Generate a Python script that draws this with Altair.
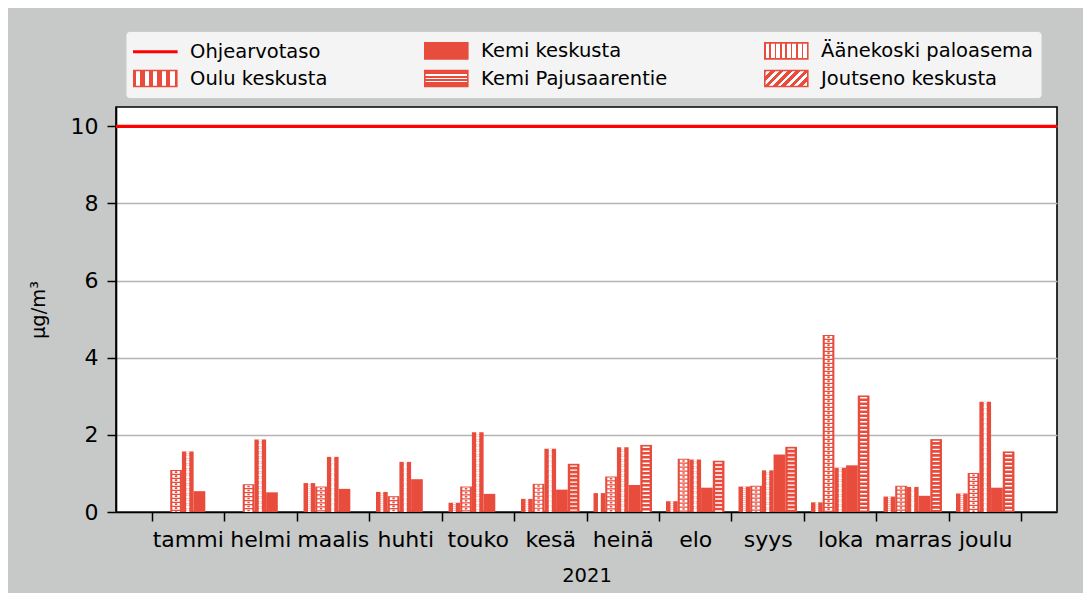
import json
import altair as alt
import pandas as pd

# ---- data ----
months = ["tammi", "helmi", "maalis", "huhti", "touko", "kesä",
          "heinä", "elo", "syys", "loka", "marras", "joulu"]
series_names = ["Oulu keskusta", "Äänekoski paloasema", "Joutseno keskusta",
                "Kemi keskusta", "Kemi Pajusaarentie"]
oulu = [None, None, 0.75, 0.52, 0.24, 0.34, 0.49, 0.28, 0.66, 0.25, 0.40, 0.48]
aanekoski = [1.09, 0.72, 0.66, 0.41, 0.66, 0.73, 0.92, 1.38, 0.68, 4.59, 0.68, 1.01]
joutseno = [1.57, 1.88, 1.43, 1.30, 2.07, 1.64, 1.68, 1.36, 1.08, 1.15, 0.65, 2.86]
kemi_keskusta = [0.54, 0.51, 0.60, 0.85, 0.47, 0.58, 0.70, 0.63, 1.49, 1.21, 0.42, 0.63]
kemi_paju = [None, None, None, None, None, 1.25, 1.74, 1.33, 1.69, 3.02, 1.89, 1.57]
guide_name = "Ohjearvotaso"
guide_values = [10]
legend_order = ["Ohjearvotaso", "Oulu keskusta", "Kemi keskusta",
                "Kemi Pajusaarentie", "Äänekoski paloasema", "Joutseno keskusta"]

RED = "#e74c3c"
LINE_RED = "#ff0000"
FONT = "DejaVu Sans"

rows = []
for name, vals in zip(series_names, [oulu, aanekoski, joutseno, kemi_keskusta, kemi_paju]):
    for m, v in zip(months, vals):
        if v is not None:
            rows.append({"month": m, "series": name, "value": v})
df = pd.DataFrame(rows)
df_guide = pd.DataFrame({"series": [guide_name] * len(guide_values), "value": guide_values})

# ---- legend symbol fills: hatch patterns imitated with striped gradients ----
def stripes(period_count, white_frac, start=0.0):
    stops = [{"offset": 0, "color": RED}]
    step = 1.0 / period_count
    for i in range(period_count):
        a = min(1, (i + start) * step)
        b = min(1, a + white_frac * step)
        stops += [{"offset": round(a, 4), "color": RED},
                  {"offset": round(a, 4), "color": "#ffffff"},
                  {"offset": round(b, 4), "color": "#ffffff"},
                  {"offset": round(b, 4), "color": RED}]
    return stops + [{"offset": 1, "color": RED}]

g_paju = {"gradient": "linear", "x1": 0, "y1": 0, "x2": 0, "y2": 1,
          "stops": [{"offset": 0, "color": RED}, {"offset": 0.24, "color": RED},
                    {"offset": 0.24, "color": "#ffffff"}, {"offset": 0.32, "color": "#ffffff"},
                    {"offset": 0.32, "color": RED}, {"offset": 0.45, "color": RED},
                    {"offset": 0.45, "color": "#ffffff"}, {"offset": 0.53, "color": "#ffffff"},
                    {"offset": 0.53, "color": RED}, {"offset": 0.66, "color": RED},
                    {"offset": 0.66, "color": "#ffffff"}, {"offset": 0.74, "color": "#ffffff"},
                    {"offset": 0.74, "color": RED}, {"offset": 1, "color": RED}]}
g_jout = {"gradient": "linear", "x1": 0, "y1": 0, "x2": 1.205, "y2": 0.449,
          "stops": stripes(7, 0.45, 0.3)}
g_aane = {"gradient": "linear", "x1": 0, "y1": 0, "x2": 1, "y2": 0,
          "stops": stripes(8, 0.7, 0.15)}
g_oulu = {"gradient": "linear", "x1": 0, "y1": 0, "x2": 1, "y2": 0,
          "stops": stripes(5, 0.5, 0.25)}

def js(o):
    return json.dumps(o, ensure_ascii=False)

fill_expr = (
    f"datum.value === '{guide_name}' ? '{LINE_RED}' : "
    f"datum.value === 'Kemi keskusta' ? '{RED}' : "
    f"datum.value === 'Oulu keskusta' ? {js(g_oulu)} : "
    f"datum.value === 'Kemi Pajusaarentie' ? {js(g_paju)} : "
    f"datum.value === 'Äänekoski paloasema' ? {js(g_aane)} : {js(g_jout)}"
)
# wide symbols: path spans [-2, 2] so the legend's square layout stays compact
RECT = "M-2,-0.744H2V0.744H-2Z"
LINE = "M-2,-0.07H2V0.07H-2Z"
legend = alt.Legend(
    title=None, orient="none", legendX=9.5, legendY=-76, columns=3,
    columnPadding=93, rowPadding=4, padding=7.5,
    symbolType=alt.ExprRef(expr=f"datum.value === '{guide_name}' ? '{LINE}' : '{RECT}'"),
    symbolSize=462, symbolStrokeWidth=1.6, symbolOffset=10.3,
    symbolFillColor=alt.ExprRef(expr=fill_expr),
    symbolOpacity=1,
    labelFont=FONT, labelFontSize=19.5, labelColor="#000", labelOffset=22.8,
    labelLimit=400, fillColor="#f3f4f3", strokeColor="#cccccc", cornerRadius=4,
)

x_enc = alt.X("month:N", sort=months,
              scale=alt.Scale(paddingInner=0, paddingOuter=0.49),
              axis=alt.Axis(title="2021", labelAngle=0, tickBand="extent"))
off_scale = alt.Scale(domain=series_names, paddingInner=0, paddingOuter=0.6)
xoff = alt.XOffset("series:N", sort=series_names, scale=off_scale)
y_enc = alt.Y("value:Q", scale=alt.Scale(domain=[0, 10.5], nice=False),
              axis=alt.Axis(title="µg/m³", values=[0, 2, 4, 6, 8, 10]))
color_enc = alt.Color("series:N",
                      scale=alt.Scale(domain=legend_order, range=[LINE_RED] + [RED] * 5),
                      legend=legend)

bars = alt.Chart(df).mark_bar(color=RED).encode(x=x_enc, xOffset=xoff, y=y_enc)

def overlay(name, color, width, dash, dash_offset, band=0.5):
    return alt.Chart(df).transform_filter(alt.datum.series == name).mark_rule(
        color=color, strokeWidth=width, strokeDash=dash, strokeDashOffset=dash_offset,
        strokeCap="butt").encode(
        x=x_enc,
        xOffset=alt.XOffset("series:N", sort=series_names, scale=off_scale, bandPosition=band),
        y=y_enc, y2=alt.datum(0))

layers = [bars]
# Kemi Pajusaarentie: horizontal white lines
layers.append(overlay("Kemi Pajusaarentie", "#ffffff", 7, [1.4, 2.6], 2.4))
# Äänekoski: white cells with red dots
layers.append(overlay("Äänekoski paloasema", "#ffffff", 7.5, [2.8, 1.2], 3.0))
layers.append(overlay("Äänekoski paloasema", RED, 2.4, [1.6, 2.4], 2.6))
# Joutseno: diagonal stripes imitated by phase-shifted columns
for dx in (-2.8, 0, 2.8):
    layers.append(overlay("Joutseno keskusta", "#ffffff", 2.9, [2.2, 2.8],
                          (3.0 + dx) % 5.0, 0.5 + dx / 11.69))
# Oulu: cross hatch imitated by small white checks
for dx, ph in ((-2.2, 2.0), (2.2, 0.0)):
    layers.append(overlay("Oulu keskusta", "#ffffff", 2.8, [1.8, 2.2], ph, 0.5 + dx / 11.69))

guide = alt.Chart(df_guide).mark_rule(strokeWidth=3.2).encode(y=y_enc, color=color_enc)
layers.append(guide)

chart = alt.layer(*layers).properties(
    width=941, height=405,
    autosize=alt.AutoSizeParams(type="none"),
    padding={"left": 108, "top": 99, "right": 26, "bottom": 81},
    background="#c6c9c7",
).configure_view(
    fill="white", stroke="black", strokeWidth=1.6
).configure_axis(
    labelFont=FONT, titleFont=FONT, labelColor="#000", titleColor="#000",
    labelFontSize=22, titleFontSize=19.5, titleFontWeight="normal",
    tickColor="#000", tickWidth=1.5, tickSize=9,
    domainColor="#000", domainWidth=1.6,
).configure_axisY(
    grid=True, gridColor="#b4b4b4", gridWidth=1.5, labelPadding=9, titlePadding=22,
).configure_axisX(
    grid=False, labelPadding=8, titlePadding=16,
)

chart.save("out.html", embed_options={"renderer": "svg", "actions": False})
